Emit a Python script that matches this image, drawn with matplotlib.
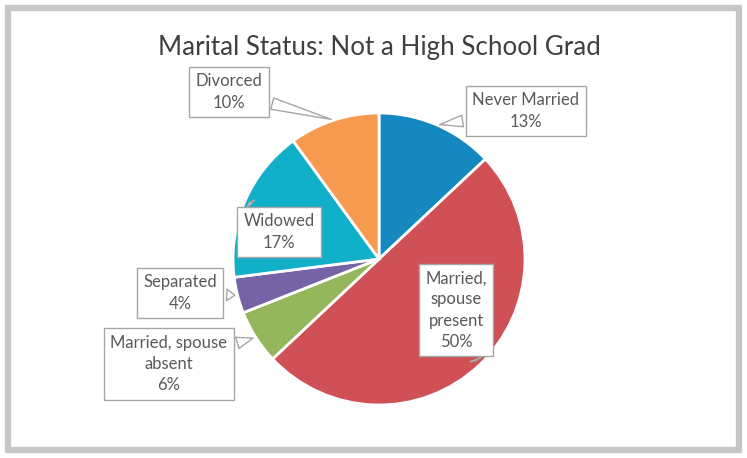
import numpy as np
import matplotlib
matplotlib.use("Agg")
import matplotlib.pyplot as plt
from matplotlib.patches import Rectangle

plt.rcParams['font.family'] = ['Lato', 'DejaVu Sans']

# data
labels = ["Never Married", "Married,\nspouse\npresent", "Married, spouse\nabsent",
          "Separated", "Widowed", "Divorced"]
shares = [13, 50, 6, 4, 17, 10]
colors = ["#1688c0", "#cf5055", "#94b75c", "#7563a6", "#12b0c8", "#f59a4f"]

# label box centres (pixel coords, y from top) and where the pointer sits (fraction of radius)
label_pos = [(526, 111), (456, 310), (169, 364), (180, 293), (279, 232), (229, 92)]
pointer_r = [1.0, 0.98, 1.0, 1.0, 0.97, 1.0]

W, H = 747, 458
fig = plt.figure(figsize=(W / 100, H / 100), dpi=100)
ax = fig.add_axes([0, 0, 1, 1])

# outer frame
ax.add_patch(Rectangle((8, 8), W - 16, H - 16, fill=False, ec="#c6c6c6", lw=4.5))

cx, cy, r = 379, H - 259, 146
wedges, _ = ax.pie(shares, colors=colors, startangle=90, counterclock=False,
                   center=(cx, cy), radius=r, frame=True,
                   wedgeprops=dict(edgecolor="white", linewidth=2))
ax.set_xlim(0, W)
ax.set_ylim(0, H)
ax.set_aspect('equal')
ax.axis('off')

ax.text(cx, H - 47, "Marital Status: Not a High School Grad", ha='center', va='center',
        fontsize=18.7, color="#404040")

for w, lab, s, (lx, ly), pr in zip(wedges, labels, shares, label_pos, pointer_r):
    ang = np.deg2rad((w.theta1 + w.theta2) / 2)
    px = cx + pr * r * np.cos(ang)
    py = cy + pr * r * np.sin(ang)
    ax.annotate(f"{lab}\n{s}%", xy=(px, py), xytext=(lx, H - ly),
                ha='center', va='center', fontsize=12, color="#595959",
                linespacing=1.4,
                bbox=dict(boxstyle="square,pad=0.4", fc="white", ec="#a6a6a6", lw=1),
                arrowprops=dict(arrowstyle="wedge,tail_width=0.7,shrink_factor=0.5",
                                fc="white", ec="#a6a6a6", lw=1))

fig.savefig("out.png", dpi=100, facecolor="white")
